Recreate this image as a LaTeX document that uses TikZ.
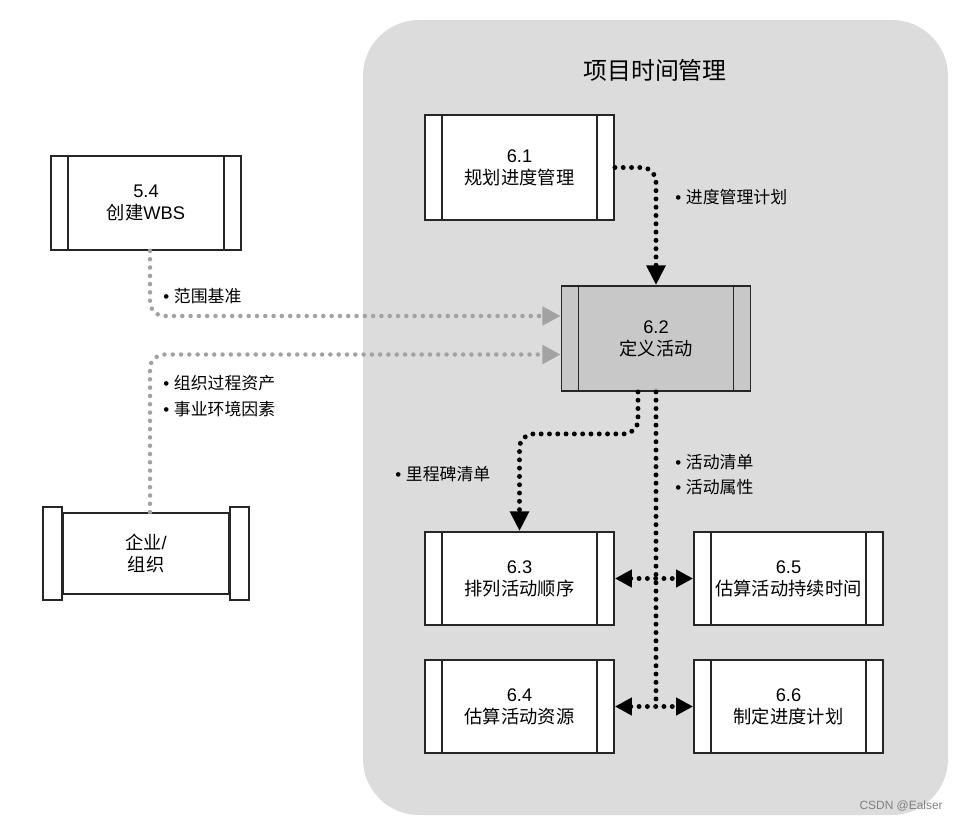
\documentclass[tikz,border=0pt]{standalone}
\usepackage{fontspec}
\setmainfont{Liberation Sans}
\newfontfamily\cjk{Noto Sans CJK SC}
\usetikzlibrary{arrows.meta, positioning, calc}

\definecolor{areagray}{HTML}{DCDCDC}
\definecolor{activegray}{HTML}{C8C8C8}
\definecolor{flowgray}{HTML}{A2A2A2}
\definecolor{edgegray}{HTML}{262626}

\tikzset{
  procbox/.style={draw=edgegray, line width=1.3pt, fill=white, minimum width=4.725cm,
    minimum height=2.325cm, align=center, inner sep=0pt,
    font=\fontsize{13pt}{15.5pt}\selectfont},
  tallbox/.style={procbox, minimum height=2.625cm},
  blackdot/.style={line width=3.5pt, line cap=round, dash pattern=on 0pt off 5.9pt,
    rounded corners=0.35cm},
  graydot/.style={blackdot, draw=flowgray, line width=3.2pt},
  bigtip/.style={-{Triangle[length=14pt,width=13pt]}},
  bothtips/.style={{Triangle[length=12pt,width=12pt]}-{Triangle[length=12pt,width=12pt]}},
  note/.style={anchor=west, inner sep=0pt, font=\fontsize{12pt}{14pt}\selectfont}
}

\begin{document}
\begin{tikzpicture}[x=0.025cm, y=-0.025cm]
		\useasboundingbox (0,0) rectangle (960,821);
		
		% Project time management area
		\fill[areagray, rounded corners=1.4cm] (363,20) rectangle (948,815);
		\node[font=\fontsize{17pt}{20pt}\selectfont] (title) at (655,70) {\cjk 项目时间管理};
		
		% Processes
		\node[tallbox] (b61) at (519.5,167.5) {6.1\\{\cjk 规划进度管理}};
		\node[tallbox, fill=activegray] (b62) at (656,338.5) {6.2\\{\cjk 定义活动}};
		\node[procbox] (b63) at (519.5,578.5) {6.3\\{\cjk 排列活动顺序}};
		\node[procbox] (b65) at (788.5,578.5) {6.5\\{\cjk 估算活动持续时间}};
		\node[procbox] (b64) at (519.5,706.5) {6.4\\{\cjk 估算活动资源}};
		\node[procbox] (b66) at (788.5,706.5) {6.6\\{\cjk 制定进度计划}};
		\node[procbox, minimum width=4.75cm, minimum height=2.35cm] (b54) at (146,203) {5.4\\{\cjk 创建}WBS};
		
		\foreach \n in {b61,b62,b63,b64,b65,b66,b54}
			\draw[edgegray, line width=1.3pt]
				([xshift=0.45cm]\n.north west) -- ([xshift=0.45cm]\n.south west)
				([xshift=-0.45cm]\n.north east) -- ([xshift=-0.45cm]\n.south east);
		
		% Enterprise / organization
		\node[procbox, minimum width=4.15cm, minimum height=2.025cm] (ent) at (146,553.5) {{\cjk 企业}/\\{\cjk 组织}};
		\draw[edgegray, line width=1.3pt, fill=white]
			([shift={(-0.475cm,0.125cm)}]ent.north west) rectangle ([yshift=-0.125cm]ent.south west);
		\draw[edgegray, line width=1.3pt, fill=white]
			([yshift=0.125cm]ent.north east) rectangle ([shift={(0.475cm,-0.125cm)}]ent.south east);
		
		% Inputs from outside
		\draw[graydot, -{Triangle[length=13pt,width=13pt,flowgray]}]
			([xshift=0.1cm]b54.south) |- ([yshift=0.5625cm]b62.west);
		\draw[graydot, -{Triangle[length=13pt,width=13pt,flowgray]}]
			([xshift=0.1cm]ent.north) |- ([yshift=-0.4cm]b62.west);
		\node[note] (scope) at (163,296) {• {\cjk 范围基准}};
		\node[note] (opa) at (163,383) {• {\cjk 组织过程资产}};
		\node[note] (eef) at (163,409) {• {\cjk 事业环境因素}};
		
		% Flows inside the area
		\draw[blackdot, bigtip] (b61.east) -| (b62.north);
		\node[note] (plan) at (675,197) {• {\cjk 进度管理计划}};
		
		\draw[blackdot, bigtip] ([xshift=-0.45cm]b62.south) -- ++(0,42) -| (b63.north);
		\node[note] (mile) at (395,474) {• {\cjk 里程碑清单}};
		
		\draw[blackdot] (b62.south) -- (b62.south |- b64.east);
		\node[note] (list) at (675,462) {• {\cjk 活动清单}};
		\node[note] (attr) at (675,487) {• {\cjk 活动属性}};
		
		\draw[blackdot, bothtips] (b63.east) -- (b65.west);
		\draw[blackdot, bothtips] (b64.east) -- (b66.west);
		
		\node[anchor=east, inner sep=0pt, text=gray, font=\fontsize{8.5pt}{10pt}\selectfont] (mark) at (943,806) {CSDN @Ealser};
	  \end{tikzpicture}
\end{document}
